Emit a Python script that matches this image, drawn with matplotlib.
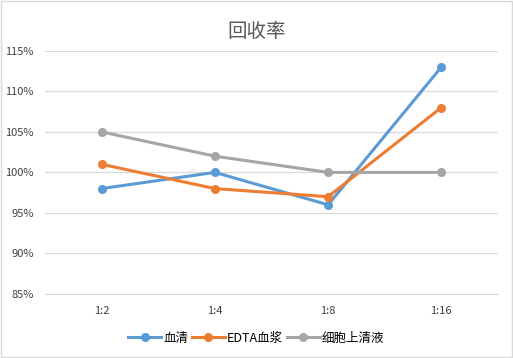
import matplotlib.pyplot as plt
from matplotlib.patches import Rectangle

plt.rcParams['font.family'] = ['Noto Sans CJK SC', 'DejaVu Sans']

# Data
categories = ["1:2", "1:4", "1:8", "1:16"]
serum = [98, 100, 96, 113]
edta_plasma = [101, 98, 97, 108]
cell_supernatant = [105, 102, 100, 100]
series_names = ["血清", "EDTA血浆", "细胞上清液"]
colors = ["#5B9BD5", "#ED7D31", "#A5A5A5"]

fig = plt.figure(figsize=(5.13, 3.58), dpi=100)
ax = fig.add_axes([0.0877, 0.179, 0.8830, 0.679])

x = range(len(categories))
for vals, name, c in zip([serum, edta_plasma, cell_supernatant], series_names, colors):
    ax.plot(x, vals, color=c, linewidth=2.2, marker="o", markersize=5.5, label=name)

ax.set_xlim(-0.5, len(categories) - 0.5)
ax.set_ylim(85, 115)
ax.set_yticks(range(85, 116, 5))
ax.set_yticklabels([f"{v}%" for v in range(85, 116, 5)])
ax.set_xticks(list(x))
ax.set_xticklabels(categories)
ax.tick_params(length=0, labelsize=8, colors="#404040")
ax.tick_params(axis="x", pad=9)
ax.tick_params(axis="y", pad=8)
ax.grid(axis="y", color="#d9d9d9", linewidth=0.9)
ax.set_axisbelow(True)
for s in ["top", "left", "right"]:
    ax.spines[s].set_visible(False)
ax.spines["bottom"].set_color("#d9d9d9")

fig.text(0.5, 0.912, "回收率", ha="center", va="center", fontsize=14, color="#595959")

fig.legend(loc="center", bbox_to_anchor=(0.5, 0.055), ncol=3, frameon=False,
           fontsize=9, handlelength=2.6, columnspacing=0.3, handletextpad=0.2)

fig.patches.append(Rectangle((0.002, 0.003), 0.996, 0.994, transform=fig.transFigure,
                             fill=False, edgecolor="#d9d9d9", linewidth=1))

fig.savefig("out.png", dpi=100)
